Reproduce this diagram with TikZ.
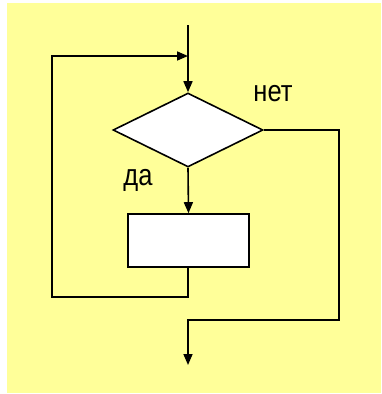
\documentclass[tikz,border=0pt]{standalone}
\usepackage{fontspec}
\setmainfont{Liberation Sans}
\usetikzlibrary{shapes.geometric,arrows.meta}
\definecolor{bgyellow}{HTML}{FFFF99}
\tikzset{
  conn/.style={line width=1.6pt, draw=black},
  arr/.style={conn, -{Triangle[length=11pt,width=9pt]}},
  cond/.style={diamond, draw=black, fill=white, line width=1.6pt, minimum width=150pt, minimum height=74pt, inner sep=0pt},
  procbox/.style={rectangle, draw=black, fill=white, line width=1.6pt, minimum width=121pt, minimum height=53pt, inner sep=0pt},
  lbl/.style={font=\fontsize{30}{30}\selectfont, xscale=0.85, inner sep=0pt}
}
\begin{document}
\begin{tikzpicture}[x=1pt,y=-1pt]
  \useasboundingbox (0,0) rectangle (381,394);
  \fill[white] (0,0) rectangle (381,394);
  \fill[bgyellow] (7,3) rectangle (381,393);
  \coordinate (start) at (188,25);
  \coordinate (join) at (188,56);
  \coordinate (loopL) at (52,56);
  \coordinate (loopB) at (52,297);
  \coordinate (loopR) at (188,297);
  \coordinate (exitR) at (339,130);
  \coordinate (exitB) at (339,320);
  \coordinate (exitL) at (188,320);
  \coordinate (endp) at (188,365);
  \node[cond] (d) at (188,130) {};
  \node[procbox] (b) at (188.5,240.5) {};
  \node[lbl] (yes) at (138,180) {да};
  \node[lbl] (no) at (273,94) {нет};
  \draw[arr] (start) -- (d.north);
  \draw[arr] (d.south) -- (b.north);
  \draw[arr] (b.south -| loopR) -- (loopR) -- (loopB) -- (loopL) -- (join);
  \draw[arr] (d.east) -- (exitR) -- (exitB) -- (exitL) -- (endp);
\end{tikzpicture}
\end{document}
